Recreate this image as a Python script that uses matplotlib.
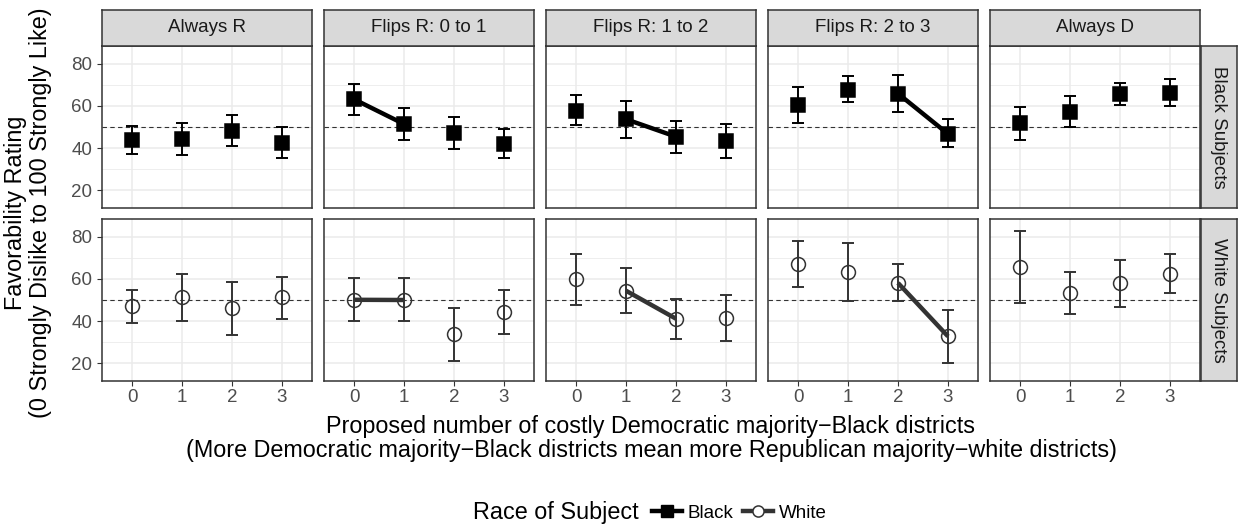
import matplotlib.pyplot as plt
from matplotlib.lines import Line2D
from matplotlib.patches import Rectangle

plt.rcParams['font.family'] = ['Liberation Sans', 'DejaVu Sans']

panels = ['Always R', 'Flips R: 0 to 1', 'Flips R: 1 to 2', 'Flips R: 2 to 3', 'Always D']
rows = ['Black Subjects', 'White Subjects']
districts = [0, 1, 2, 3]
# which pair of district counts is joined by a line in each panel
flips = [None, (0, 1), (1, 2), (2, 3), None]

black_mean = [[43.8, 44.3, 48.2, 42.4],
              [63.2, 51.4, 47.3, 41.9],
              [57.8, 53.7, 45.4, 43.3],
              [60.6, 67.8, 65.9, 46.7],
              [51.9, 57.3, 65.7, 66.3]]
black_lo = [[37.0, 36.8, 41.0, 35.2],
            [55.9, 44.0, 39.5, 35.2],
            [50.8, 44.9, 37.6, 35.5],
            [51.9, 61.8, 57.3, 40.3],
            [44.0, 50.2, 60.6, 59.8]]
black_hi = [[50.5, 51.8, 55.5, 49.8],
            [70.5, 59.0, 54.9, 48.9],
            [65.1, 62.4, 52.9, 51.6],
            [69.2, 74.3, 74.8, 53.7],
            [59.7, 64.8, 71.1, 72.7]]

white_mean = [[47.0, 51.4, 46.0, 51.2],
              [50.1, 50.0, 33.8, 44.4],
              [59.8, 54.4, 41.1, 41.6],
              [67.0, 63.2, 58.1, 32.7],
              [65.7, 53.5, 57.9, 62.4]]
white_lo = [[39.2, 40.1, 33.3, 41.2],
            [40.1, 39.8, 21.2, 34.0],
            [47.8, 43.8, 31.4, 30.6],
            [56.0, 49.5, 49.3, 20.0],
            [48.6, 43.5, 46.7, 53.1]]
white_hi = [[54.8, 62.4, 58.7, 61.1],
            [60.6, 60.6, 46.3, 54.8],
            [72.0, 65.2, 50.5, 52.4],
            [78.2, 77.0, 67.1, 45.2],
            [82.9, 63.5, 69.0, 71.9]]

W, H = 1238, 525
fig = plt.figure(figsize=(W / 100, H / 100), dpi=100)


def box(x0, y0, x1, y1):
    # pixel box (top-left origin) -> figure fraction rect
    return [x0 / W, 1 - y1 / H, (x1 - x0) / W, (y1 - y0) / H]


dark = '#333333'
col_left = [102, 324, 546, 768, 990]
pw = 210
row_top = [46, 219]
ph = 162
title_fs = 16.8
small_fs = 13.5

series = [
    (black_mean, black_lo, black_hi, 'black', 's', 'black'),
    (white_mean, white_lo, white_hi, dark, 'o', 'none'),
]


def strip(rect, label, rot):
    sx = fig.add_axes(rect)
    sx.set_xticks([])
    sx.set_yticks([])
    sx.add_patch(Rectangle((0, 0), 1, 1, transform=sx.transAxes, fc='#D9D9D9', ec='none'))
    for s in sx.spines.values():
        s.set_color(dark)
        s.set_linewidth(1.1)
    sx.text(0.5, 0.5, label, ha='center', va='center', fontsize=small_fs, rotation=rot,
            color='#1A1A1A', transform=sx.transAxes)


for r in range(2):
    mean, lo, hi, c, mk, fc = series[r]
    for p in range(5):
        x0 = col_left[p]
        y0 = row_top[r]
        ax = fig.add_axes(box(x0, y0, x0 + pw, y0 + ph))
        ax.set_xlim(-0.6, 3.6)
        ax.set_ylim(11.5, 88.5)
        ax.set_xticks(districts)
        ax.set_yticks([20, 40, 60, 80])
        ax.set_yticks([30, 50, 70], minor=True)
        ax.grid(True, which='major', color='#EBEBEB', lw=1.1)
        ax.grid(True, which='minor', axis='y', color='#EBEBEB', lw=0.6)
        ax.set_axisbelow(True)
        for s in ax.spines.values():
            s.set_color(dark)
            s.set_linewidth(1.1)
        ax.tick_params(which='minor', length=0)
        ax.tick_params(which='major', length=3.5, color=dark, labelcolor='#4D4D4D',
                       labelsize=small_fs, width=0.8)
        if p > 0:
            ax.tick_params(axis='y', labelleft=False, length=0)
        if r == 0:
            ax.tick_params(axis='x', labelbottom=False, length=0)
        else:
            ax.tick_params(axis='x', pad=2.5)

        ax.axhline(50, color=dark, lw=0.8, ls=(0, (4, 3)), zorder=1)

        m = mean[p]
        yerr = [[m[i] - lo[p][i] for i in range(4)], [hi[p][i] - m[i] for i in range(4)]]
        ax.errorbar(districts, m, yerr=yerr, fmt='none', ecolor=c, elinewidth=1.4,
                    capsize=4.5, capthick=1.4, zorder=2)
        if flips[p] is not None:
            a, b = flips[p]
            ax.plot([districts[a], districts[b]], [m[a], m[b]], color=c, lw=3.2,
                    solid_capstyle='butt', zorder=3 if r == 0 else 4)
        ax.plot(districts, m, ls='none', marker=mk, ms=10, mfc=fc, mec=c,
                mew=1.1, zorder=3 if r == 1 else 4)

        if r == 0:
            strip(box(x0, 9.5, x0 + pw, 46), panels[p], 0)

    strip(box(1201, row_top[r], 1237, row_top[r] + ph), rows[r], -90)

# axis titles
fig.text((102 + 1200) / 2 / W, 1 - 427 / H,
         'Proposed number of costly Democratic majority\u2212Black districts',
         ha='center', va='center', fontsize=title_fs)
fig.text((102 + 1200) / 2 / W, 1 - 450 / H,
         '(More Democratic majority\u2212Black districts mean more Republican majority\u2212white districts)',
         ha='center', va='center', fontsize=title_fs)
fig.text(16 / W, 1 - 213 / H, 'Favorability Rating', rotation=90,
         ha='center', va='center', fontsize=title_fs)
fig.text(41 / W, 1 - 213 / H, '(0 Strongly Dislike to 100 Strongly Like)', rotation=90,
         ha='center', va='center', fontsize=title_fs)

# legend
fig.text(639 / W, 1 - 513 / H, 'Race of Subject', ha='right', va='center', fontsize=title_fs)
handles = [
    Line2D([], [], color='black', lw=3.2, marker='s', ms=8, mfc='black', mec='black'),
    Line2D([], [], color=dark, lw=3.2, marker='o', ms=8, mfc='white', mec=dark, mew=1.1),
]
fig.legend(handles, ['Black', 'White'], loc='center left',
           bbox_to_anchor=(652 / W, 1 - 513 / H), ncol=2, frameon=False,
           fontsize=small_fs, handlelength=1.6, handletextpad=0.3, columnspacing=0.5,
           borderpad=0, borderaxespad=0)

fig.savefig('out.png', dpi=100, facecolor='white')
